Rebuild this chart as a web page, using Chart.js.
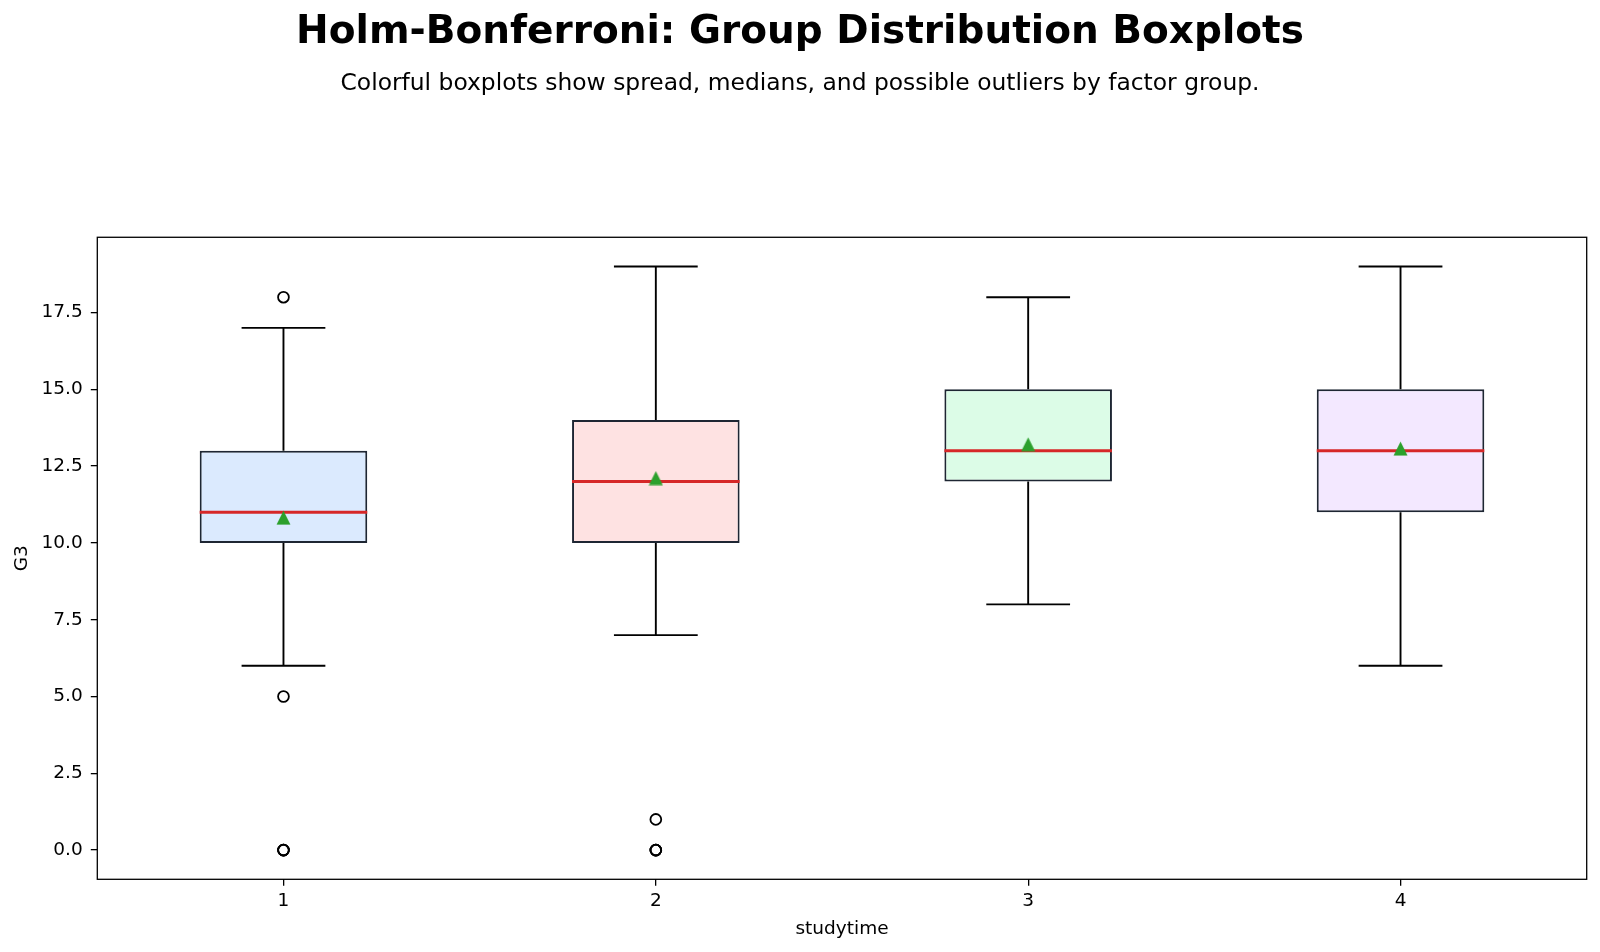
<!DOCTYPE html>
<html>
<head>
<meta charset="utf-8">
<script src="https://cdn.jsdelivr.net/npm/chart.js@4"></script>
<style>
  html, body { margin: 0; padding: 0; background: #fff; }
  #wrap { width: 1600px; height: 952px; position: relative; }
</style>
</head>
<body>
<div id="wrap"><canvas id="myChart"></canvas></div>
<script>
// boxplot summary per studytime group
var categories = ['1', '2', '3', '4'];
var lowWhisker = [6, 7, 8, 6];
var q1 = [10, 10, 12, 11];
var medians = [11, 12, 13, 13];
var q3 = [13, 14, 15, 15];
var highWhisker = [17, 19, 18, 19];
var means = [10.82, 12.11, 13.21, 13.07];
var outliers = [[18, 5, 0, 0, 0], [1, 0, 0, 0], [], []];
var yTicks = [0, 2.5, 5, 7.5, 10, 12.5, 15, 17.5];

var boxColors = ['#dbeafe', '#fee2e2', '#dcfce7', '#f3e8ff'];
var boxWidth = 0.45;
var capWidth = boxWidth / 2;

Chart.defaults.font.family = "'DejaVu Sans', sans-serif";
Chart.defaults.color = '#000';

// category position on the x axis
var pos = categories.map(function(c, i) { return i + 1; });

// build the line pieces, null points break the line between groups
var whiskerData = [];
var capData = [];
var medianData = [];
var outlierData = [];
var meanData = [];
pos.forEach(function(x, i) {
    whiskerData.push({x: x, y: q3[i]}, {x: x, y: highWhisker[i]}, {x: x, y: null});
    whiskerData.push({x: x, y: q1[i]}, {x: x, y: lowWhisker[i]}, {x: x, y: null});
    capData.push({x: x - capWidth / 2, y: highWhisker[i]}, {x: x + capWidth / 2, y: highWhisker[i]}, {x: x, y: null});
    capData.push({x: x - capWidth / 2, y: lowWhisker[i]}, {x: x + capWidth / 2, y: lowWhisker[i]}, {x: x, y: null});
    medianData.push({x: x - boxWidth / 2, y: medians[i]}, {x: x + boxWidth / 2, y: medians[i]}, {x: x, y: null});
    outliers[i].forEach(function(v) { outlierData.push({x: x, y: v}); });
    meanData.push({x: x, y: means[i]});
});

// matplotlib style "^" marker
var tri = document.createElement('canvas');
tri.width = 15; tri.height = 15;
var tctx = tri.getContext('2d');
tctx.fillStyle = '#2ca02c';
tctx.beginPath();
tctx.moveTo(7.5, 0.5);
tctx.lineTo(14.5, 14.5);
tctx.lineTo(0.5, 14.5);
tctx.closePath();
tctx.fill();

var frame = {
    id: 'frame',
    afterDatasetsDraw: function(chart) {
        var a = chart.chartArea, ctx = chart.ctx;
        ctx.save();
        ctx.strokeStyle = '#000';
        ctx.lineWidth = 1.3;
        ctx.strokeRect(a.left, a.top, a.right - a.left, a.bottom - a.top);
        ctx.restore();
    }
};

var ctx = document.getElementById('myChart').getContext('2d');
var myChart = new Chart(ctx, {
    data: {
        datasets: [{
            type: 'bar',
            data: pos.map(function(x, i) { return {x: x, y: [q1[i], q3[i]]}; }),
            backgroundColor: boxColors,
            borderColor: '#1e2633',
            borderWidth: 2,
            borderSkipped: false,
            barPercentage: boxWidth,
            categoryPercentage: 1,
            order: 5
        }, {
            type: 'line',
            data: whiskerData,
            borderColor: '#000',
            borderWidth: 1.9,
            pointRadius: 0,
            fill: false,
            order: 4
        }, {
            type: 'line',
            data: capData,
            borderColor: '#000',
            borderWidth: 1.9,
            pointRadius: 0,
            fill: false,
            order: 4
        }, {
            type: 'line',
            data: medianData,
            borderColor: '#d62728',
            borderWidth: 3,
            pointRadius: 0,
            fill: false,
            order: 2
        }, {
            type: 'scatter',
            data: outlierData,
            pointStyle: 'circle',
            pointRadius: 5.4,
            borderWidth: 1.8,
            borderColor: '#000',
            backgroundColor: 'rgba(0,0,0,0)',
            order: 3
        }, {
            type: 'scatter',
            data: meanData,
            pointStyle: tri,
            order: 1
        }]
    },
    options: {
        responsive: true,
        maintainAspectRatio: false,
        animation: false,
        events: [],
        layout: { padding: 0 },
        plugins: {
            legend: { display: false },
            tooltip: { enabled: false },
            title: {
                display: true,
                text: 'Holm-Bonferroni: Group Distribution Boxplots',
                font: { size: 39, weight: 'bold' },
                padding: { top: 9.2, bottom: 14 }
            },
            subtitle: {
                display: true,
                text: 'Colorful boxplots show spread, medians, and possible outliers by factor group.',
                font: { size: 23.4 },
                padding: { top: 0, bottom: 139.2 }
            }
        },
        scales: {
            x: {
                type: 'linear',
                min: 0.5,
                max: 4.5,
                offset: false,
                afterBuildTicks: function(axis) {
                    axis.ticks = pos.map(function(v) { return {value: v}; });
                },
                afterFit: function(axis) { axis.height = 72.7; },
                ticks: {
                    font: { size: 18.5 },
                    padding: 4.6,
                    callback: function(value, index) { return categories[index]; }
                },
                grid: { display: true, offset: false, drawOnChartArea: false, drawTicks: true, tickLength: 6.5, color: '#000', lineWidth: 1.3 },
                border: { display: false },
                title: { display: true, text: 'studytime', font: { size: 18.5 }, padding: { top: 0, bottom: 11.4 } }
            },
            y: {
                type: 'linear',
                min: -0.95,
                max: 19.95,
                afterBuildTicks: function(axis) {
                    axis.ticks = yTicks.map(function(v) { return {value: v}; });
                },
                afterFit: function(axis) { axis.width = 97.3; },
                ticks: {
                    font: { size: 18.5 },
                    padding: 8.1,
                    callback: function(value) { return value.toFixed(1); }
                },
                grid: { display: true, drawOnChartArea: false, drawTicks: true, tickLength: 6.5, color: '#000', lineWidth: 1.3 },
                border: { display: false },
                title: { display: true, text: 'G3', font: { size: 18.5 }, padding: { top: 11.4, bottom: 0 } }
            },
            // empty right axis, only keeps the right margin so titles stay centred on the page
            yRight: {
                type: 'linear',
                position: 'right',
                min: -0.95,
                max: 19.95,
                afterFit: function(axis) { axis.width = 13.3; },
                ticks: { display: false },
                grid: { display: false },
                border: { display: false }
            }
        }
    },
    plugins: [frame]
});
</script>
</body>
</html>
